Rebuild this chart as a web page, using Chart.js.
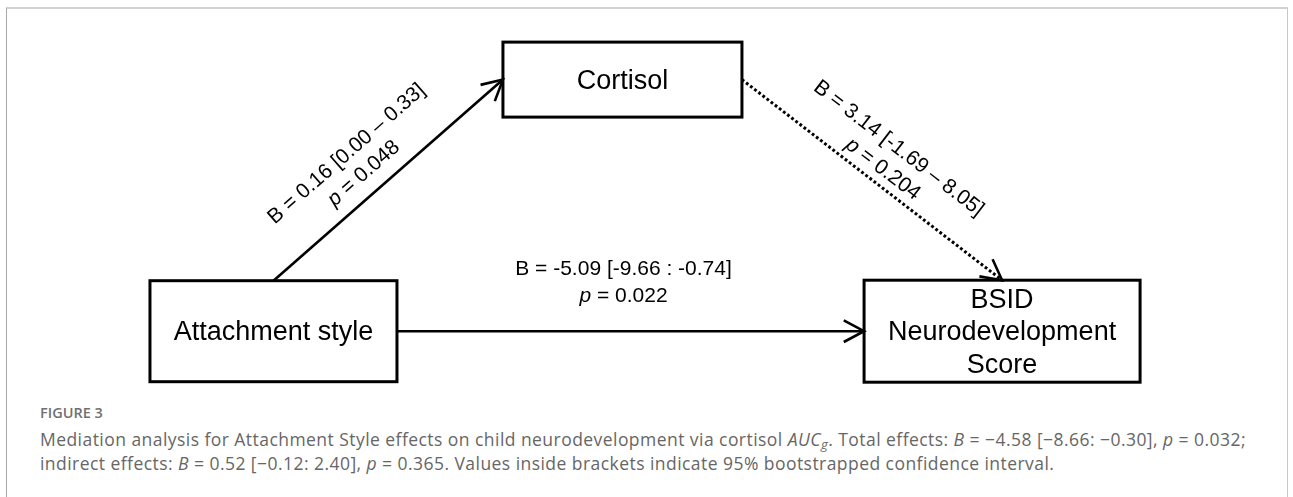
<!DOCTYPE html>
<html>
<head>
<meta charset="utf-8">
<script src="https://cdn.jsdelivr.net/npm/chart.js@4.4.1/dist/chart.umd.min.js"></script>
<style>
  html, body { margin: 0; padding: 0; background: #fff; }
  #wrap { position: relative; width: 1293px; height: 497px; overflow: hidden; }
  #frame { position: absolute; left: 6px; top: 7px; width: 1280px; height: 540px;
           border-top: 2px solid #d2d2d2; border-left: 1px solid #a8a8a8; border-right: 1px solid #c8c8c8; }
  #diagram { position: absolute; left: 0; top: 0; }
  #caption { position: absolute; left: 40px; top: 403px; width: 1240px;
             font-family: "Open Sans", sans-serif; color: #666; white-space: nowrap; }
  #caption .fig { font-size: 14.5px; font-weight: 600; color: #707070; line-height: 20px; }
  #caption .txt { font-size: 17.5px; letter-spacing: 0.45px; line-height: 24px; margin-top: 4px; }
  #caption i sub { font-size: 13px; vertical-align: -3px; line-height: 0; }
</style>
</head>
<body>
<div id="wrap">
  <div id="frame"></div>
  <canvas id="diagram" width="1293" height="400"></canvas>
  <div id="caption">
    <div class="fig">FIGURE 3</div>
    <div class="txt">Mediation analysis for Attachment Style effects on child neurodevelopment via cortisol <i>AUC<sub>g</sub></i>. Total effects: <i>B</i> = &minus;4.58 [&minus;8.66: &minus;0.30], <i>p</i> = 0.032;<br>indirect effects: <i>B</i> = 0.52 [&minus;0.12: 2.40], <i>p</i> = 0.365. Values inside brackets indicate 95% bootstrapped confidence interval.</div>
  </div>
</div>
<script>
(function () {

  // nodes of the mediation model
  var nodeNames = ['Attachment style', 'Cortisol', 'BSID\nNeurodevelopment\nScore'];

  // paths: from -> to, coefficient, CI and p value
  var pathFrom = [0, 1, 0];
  var pathTo = [1, 2, 2];
  var pathB = [0.16, 3.14, -5.09];
  var pathLow = [0.00, -1.69, -9.66];
  var pathHigh = [0.33, 8.05, -0.74];
  var pathP = [0.048, 0.204, 0.022];
  var ciSep = [' \u2013 ', ' \u2013 ', ' : '];

  // layout (scale units 0-100) and box styles
  var nodeX = [21.15, 48.14, 77.5];
  var nodeY = [17.2, 80.1, 17.2];
  var boxW = [247, 239, 276];
  var boxH = [101, 75, 102];
  var fromSide = ['top', 'right', 'right'];
  var toSide = ['left', 'top', 'left'];
  var labelOff = [[47, 21], [41, 15], [62, 35]];
  var labelShift = [-14, 2, -7];

  var FONT = '"Liberation Sans", Arial, sans-serif';

  var anchor = function (b, side) {
    if (side === 'top') return { x: b.cx, y: b.t };
    if (side === 'left') return { x: b.l, y: b.cy };
    if (side === 'right') return { x: b.r, y: b.cy };
    return { x: b.cx, y: b.b };
  };

  var drawParts = function (ctx, parts, x, y) {
    var total = 0;
    parts.forEach(function (p) {
      ctx.font = (p.it ? 'italic ' : '') + '21px ' + FONT;
      p.w = ctx.measureText(p.t).width;
      total += p.w;
    });
    var cur = x - total / 2;
    parts.forEach(function (p) {
      ctx.font = (p.it ? 'italic ' : '') + '21px ' + FONT;
      ctx.fillText(p.t, cur, y);
      cur += p.w;
    });
  };

  var diagramPlugin = {
    id: 'diagram',
    afterDatasetsDraw: function (chart) {
      var ctx = chart.ctx;
      var xs = chart.scales.x, ys = chart.scales.y;

      var boxes = nodeNames.map(function (n, i) {
        var cx = xs.getPixelForValue(nodeX[i]);
        var cy = ys.getPixelForValue(nodeY[i]);
        return { cx: cx, cy: cy, l: cx - boxW[i] / 2, r: cx + boxW[i] / 2,
                 t: cy - boxH[i] / 2, b: cy + boxH[i] / 2 };
      });

      ctx.save();
      ctx.strokeStyle = '#000';
      ctx.fillStyle = '#000';

      // boxes
      boxes.forEach(function (b, i) {
        ctx.lineWidth = 3;
        ctx.setLineDash([]);
        ctx.strokeRect(b.l, b.t, b.r - b.l, b.b - b.t);
        var lines = nodeNames[i].split('\n');
        ctx.font = '27px ' + FONT;
        ctx.textAlign = 'center';
        ctx.textBaseline = 'middle';
        lines.forEach(function (ln, k) {
          ctx.fillText(ln, b.cx, b.cy + 1.5 + (k - (lines.length - 1) / 2) * 32.5);
        });
      });

      // paths
      pathFrom.forEach(function (f, i) {
        var a = anchor(boxes[f], fromSide[i]);
        var z = anchor(boxes[pathTo[i]], toSide[i]);
        var ang = Math.atan2(z.y - a.y, z.x - a.x);
        var dotted = pathP[i] > 0.05;

        ctx.lineWidth = dotted ? 3 : 2.6;
        ctx.lineCap = 'butt';
        ctx.setLineDash(dotted ? [2.8, 2.4] : []);
        ctx.beginPath();
        ctx.moveTo(a.x, a.y);
        ctx.lineTo(z.x, z.y);
        ctx.stroke();

        // open arrow head
        ctx.setLineDash([]);
        ctx.lineWidth = 2.6;
        var len = 23, spread = 28 * Math.PI / 180;
        ctx.beginPath();
        ctx.moveTo(z.x - len * Math.cos(ang - spread), z.y - len * Math.sin(ang - spread));
        ctx.lineTo(z.x, z.y);
        ctx.lineTo(z.x - len * Math.cos(ang + spread), z.y - len * Math.sin(ang + spread));
        ctx.stroke();

        // label along the path
        var mx = (a.x + z.x) / 2, my = (a.y + z.y) / 2;
        var line1 = [{ t: 'B = ' + pathB[i].toFixed(2) + ' [' + pathLow[i].toFixed(2) + ciSep[i] + pathHigh[i].toFixed(2) + ']' }];
        var line2 = [{ t: 'p', it: true }, { t: ' = ' + pathP[i].toFixed(3) }];
        ctx.save();
        ctx.translate(mx, my);
        ctx.rotate(ang);
        ctx.textAlign = 'left';
        ctx.textBaseline = 'middle';
        drawParts(ctx, line1, labelShift[i], -labelOff[i][0]);
        drawParts(ctx, line2, labelShift[i], -labelOff[i][1]);
        ctx.restore();
      });

      ctx.restore();
    }
  };

  var ctx = document.getElementById('diagram').getContext('2d');

  new Chart(ctx, {
    type: 'scatter',
    data: {
      datasets: [{
        data: nodeNames.map(function (n, i) { return { x: nodeX[i], y: nodeY[i] }; }),
        pointRadius: 0
      }]
    },
    options: {
      responsive: false,
      animation: false,
      devicePixelRatio: 1,
      events: [],
      layout: { padding: 0 },
      scales: {
        x: { type: 'linear', min: 0, max: 100, display: false },
        y: { type: 'linear', min: 0, max: 100, display: false }
      },
      plugins: { legend: { display: false }, tooltip: { enabled: false } }
    },
    plugins: [diagramPlugin]
  });

})();
</script>
</body>
</html>
